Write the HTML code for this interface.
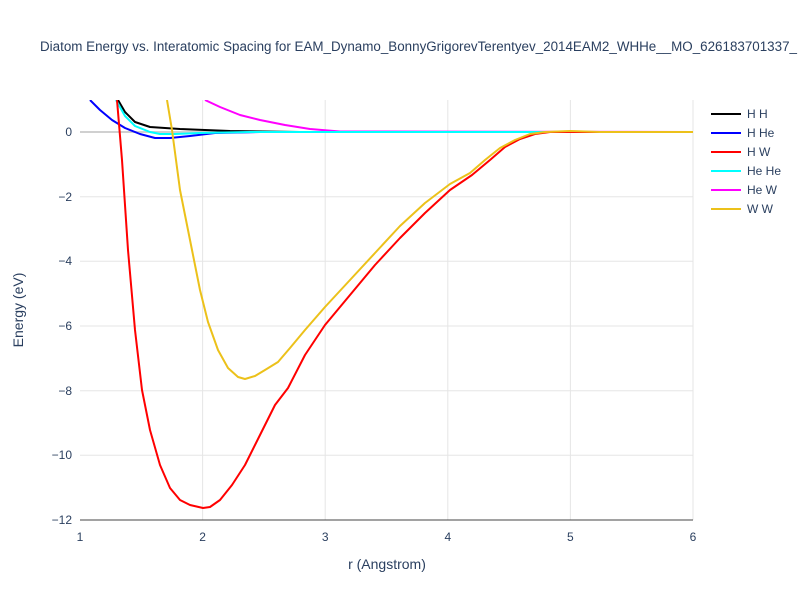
<!DOCTYPE html>
<html><head><meta charset="utf-8"><style>body{margin:0;background:#fff}svg{font-family:"Liberation Sans",sans-serif}</style></head><body>
<svg width="800" height="600" xmlns="http://www.w3.org/2000/svg">
<rect width="800" height="600" fill="#fff"/>
<defs><clipPath id="c"><rect x="80" y="100" width="613" height="420"/></clipPath></defs>
<g stroke="#e5e5e5" stroke-width="1">
<line x1="202.6" y1="100" x2="202.6" y2="520"/><line x1="325.2" y1="100" x2="325.2" y2="520"/><line x1="447.8" y1="100" x2="447.8" y2="520"/><line x1="570.4" y1="100" x2="570.4" y2="520"/><line x1="693" y1="100" x2="693" y2="520"/>
<line x1="80" y1="196.7" x2="693" y2="196.7"/><line x1="80" y1="261.3" x2="693" y2="261.3"/><line x1="80" y1="326" x2="693" y2="326"/><line x1="80" y1="390.7" x2="693" y2="390.7"/><line x1="80" y1="455.3" x2="693" y2="455.3"/>
</g>
<line x1="80" y1="132" x2="693" y2="132" stroke="#d0d0d0" stroke-width="2"/>
<line x1="80" y1="520" x2="693" y2="520" stroke="#444" stroke-width="1"/>
<g clip-path="url(#c)" fill="none" stroke-width="2" stroke-linejoin="round">
<polyline stroke="#ff00ff" points="205,100 220,107 240,115 260,120 285,125 310,129 340,131.5 693,132"/>
<polyline stroke="#000" points="118,100 125,112 135,122 150,127 180,129 230,131 300,132 693,132"/>
<polyline stroke="#0000ff" points="90,100 100,110 112,120 125,128 140,134 155,138 170,138 190,136 215,133 260,132 693,132"/>
<polyline stroke="#00ffff" points="116,100 125,116 135,126 150,132 160,134 175,134 200,133 250,132 693,132"/>
<polyline stroke="#ff0000" points="117,100 122,160 128,250 135,330 142,390 150,430 160,465 170,488 180,500 190,505 203,508 210,507 220,500 232,485 245,465 260,435 275,405 288,388 305,355 325,325 350,295 375,265 400,238 425,213 450,190 472,175 490,160 505,147 520,139 535,134 550,132 693,132"/>
<polyline stroke="#ecc11a" points="167,100 172,130 180,190 190,240 200,290 208,322 218,350 228,368 238,377 245,379 255,376 265,370 278,362 290,348 305,330 325,307 350,280 375,253 400,226 425,203 450,184 470,173 485,160 500,148 515,140 530,134 545,132 570,131 600,132 693,132"/>
</g>
<g font-size="12" fill="#2a3f5f" text-anchor="end">
<text x="72" y="136">0</text><text x="72" y="201">−2</text><text x="72" y="265">−4</text><text x="72" y="330">−6</text><text x="72" y="395">−8</text><text x="72" y="459">−10</text><text x="72" y="524">−12</text>
</g>
<g font-size="12" fill="#2a3f5f" text-anchor="middle">
<text x="80" y="541">1</text><text x="202.6" y="541">2</text><text x="325.2" y="541">3</text><text x="447.8" y="541">4</text><text x="570.4" y="541">5</text><text x="693" y="541">6</text>
</g>
<text x="387" y="569" font-size="14" fill="#2a3f5f" text-anchor="middle">r (Angstrom)</text>
<text transform="translate(23,310) rotate(-90)" font-size="14" fill="#2a3f5f" text-anchor="middle">Energy (eV)</text>
<text x="40" y="51" font-size="13.4" fill="#2a3f5f">Diatom Energy vs. Interatomic Spacing for EAM_Dynamo_BonnyGrigorevTerentyev_2014EAM2_WHHe__MO_626183701337_</text>
<g stroke-width="2">
<line x1="711" y1="114" x2="741" y2="114" stroke="#000"/><line x1="711" y1="133" x2="741" y2="133" stroke="#0000ff"/><line x1="711" y1="152" x2="741" y2="152" stroke="#ff0000"/><line x1="711" y1="171" x2="741" y2="171" stroke="#00ffff"/><line x1="711" y1="190" x2="741" y2="190" stroke="#ff00ff"/><line x1="711" y1="209" x2="741" y2="209" stroke="#ecc11a"/>
</g>
<g font-size="12" fill="#2a3f5f">
<text x="747" y="118">H H</text><text x="747" y="137">H He</text><text x="747" y="156">H W</text><text x="747" y="175">He He</text><text x="747" y="194">He W</text><text x="747" y="213">W W</text>
</g>
</svg>
</body></html>
